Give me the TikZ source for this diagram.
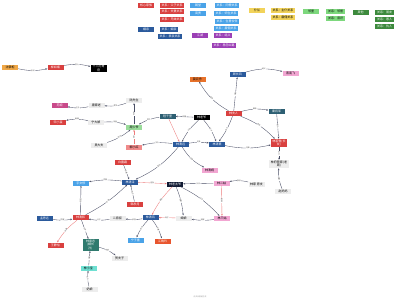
\documentclass[tikz,border=0pt]{standalone}
\usepackage{fontspec}
\setmainfont{Noto Sans CJK SC}
\usetikzlibrary{arrows.meta}
\newcommand{\nfont}{\fontsize{3}{3.4}\selectfont}
\newcommand{\lfont}{\fontsize{1.8}{2}\selectfont}
\definecolor{rdc}{HTML}{D9403F}
\definecolor{dbc}{HTML}{2B5A9C}
\definecolor{skc}{HTML}{4AA3E8}
\definecolor{puc}{HTML}{9B3FB5}
\definecolor{yec}{HTML}{F2D35A}
\definecolor{lgc}{HTML}{7DD87D}
\definecolor{dgc}{HTML}{3D8A3D}
\definecolor{ogc}{HTML}{F0A847}
\definecolor{or2c}{HTML}{E8722A}
\definecolor{pkc}{HTML}{F2A6D2}
\definecolor{mgc}{HTML}{C94A8A}
\definecolor{tec}{HTML}{2D5F73}
\definecolor{te2c}{HTML}{2F7A6E}
\definecolor{lrc}{HTML}{F08A8A}
\definecolor{gnc}{HTML}{9ADB9A}
\definecolor{nyc}{HTML}{111A33}
\definecolor{cyc}{HTML}{6FE0D2}
\definecolor{orrc}{HTML}{E8552E}
\definecolor{gyc}{HTML}{EDEDED}
\definecolor{edgec}{HTML}{4A4F66}
\definecolor{redline}{HTML}{EE7B7B}
\tikzset{
  nd/.style={rectangle, inner xsep=1.6pt, inner ysep=0.8pt, minimum height=5pt, minimum width=16pt, font=\nfont, align=center, text=white},
  rd/.style={nd, fill=rdc},
  db/.style={nd, fill=dbc},
  sk/.style={nd, fill=skc},
  pu/.style={nd, fill=puc},
  ye/.style={nd, fill=yec, text=black},
  lg/.style={nd, fill=lgc, text=black},
  dg/.style={nd, fill=dgc},
  og/.style={nd, fill=ogc, text=black},
  or2/.style={nd, fill=or2c, text=black},
  pk/.style={nd, fill=pkc, text=black},
  mg/.style={nd, fill=mgc},
  te/.style={nd, fill=tec},
  te2/.style={nd, fill=te2c},
  lr/.style={nd, fill=lrc, text=black},
  gn/.style={nd, fill=gnc, text=black},
  ny/.style={nd, fill=nyc},
  bk/.style={nd, fill=black},
  cy/.style={nd, fill=cyc, text=black},
  orr/.style={nd, fill=orrc},
  gy/.style={nd, fill=gyc, text=black},
  rel/.style={draw=edgec, line width=0.35pt, ->},
  relr/.style={rel, draw=redline},
  lbl/.style={font=\lfont, fill=white, inner sep=0.3pt, text=black!70, sloped}
}
\begin{document}
\begin{tikzpicture}[x=1pt, y=-1pt, >={Stealth[length=2pt,width=1.6pt]}]
  \fill[white] (0,0) rectangle (400,300);
  \useasboundingbox (0,0) rectangle (400,300);
  % legend
  \node[rd] (lgA) at (146,5) {核心家族};
  \node[rd] (lgA1) at (172,5) {关系：父子关系};
  \node[rd] (lgA2) at (172,11.5) {关系：夫妻关系};
  \node[rd] (lgA3) at (172,19) {关系：兄妹关系};
  \node[db] (lgB) at (146,29) {姻亲};
  \node[db] (lgB1) at (169,29) {关系：姻亲};
  \node[db] (lgB2) at (170,36) {关系：表亲关系};
  \node[sk] (lgC1) at (198,5.5) {朝堂};
  \node[sk] (lgC2) at (198,13.5) {商贾};
  \node[sk] (lgC3) at (227,5.5) {关系：同僚关系};
  \node[sk] (lgC4) at (226,13.5) {关系：师生关系};
  \node[sk] (lgC5) at (227,21) {关系：生意伙伴};
  \node[sk] (lgC6) at (226,28.5) {关系：雇佣关系};
  \node[pu] (lgD) at (200,35.5) {江湖};
  \node[pu] (lgD1) at (223,35.5) {关系：结义};
  \node[pu] (lgD2) at (224,45) {关系：恩怨纠葛};
  \node[ye] (lgE) at (257,10.5) {仆从};
  \node[ye] (lgE1) at (283,10.5) {关系：主仆关系};
  \node[ye] (lgE2) at (283,17) {关系：雇佣关系};
  \node[lg] (lgF) at (311,11.5) {邻里};
  \node[lg] (lgF1) at (335.5,11.5) {关系：邻居};
  \node[lg] (lgF2) at (335.5,18) {关系：旧识};
  \node[dg] (lgG) at (360.5,12) {其他};
  \node[dg] (lgG1) at (384.5,12) {关系：朋友};
  \node[dg] (lgG2) at (384.5,19) {关系：恩人};
  \node[dg] (lgG3) at (384.5,26) {关系：仇人};
  % upper left
  \node[og] (shen) at (10,67) {沈掌柜};
  \node[rd] (liu) at (55.5,67) {柳如烟};
  \node[bk] (fu) at (98.5,68.5) {十三阿哥\\府};
  \node[mg] (su) at (59.5,105) {苏婉};
  \node[gy] (tang) at (96.5,105) {唐家老};
  \node[gy] (lu) at (134,100.5) {陆先生};
  \node[rd] (song) at (58,122) {宋小蛮};
  \node[gy] (ning) at (96,122.5) {宁大娘};
  \node[gn] (zhou) at (134,127) {周少爷};
  \node[gy] (wu) at (99,145) {吴大夫};
  \node[lr] (xhong) at (134,147) {柳小红};
  % centre
  \node[or2] (mo) at (197.5,79) {莫云舟};
  \node[db] (gu) at (237.5,74.5) {顾长风};
  \node[pk] (yan) at (290.5,73.5) {燕南飞};
  \node[te] (cheng) at (167.5,116) {程千里};
  \node[bk] (lye) at (201.5,117.5) {林老爷};
  \node[rd] (lfu) at (233.5,113.5) {林夫人};
  \node[te] (qin) at (276.5,111.5) {秦将军};
  \node[db] (qyuan) at (180.5,144.5) {林清远};
  \node[db] (qyan) at (217,144) {林清晏};
  \node[rd] (rxue) at (279,143) {林若雪(长\\女)};
  \node[gy] (guanj) at (279,164) {林府管家(老\\周)};
  \node[gy] (zhao) at (283,191.5) {赵妈妈};
  \node[pk] (qwan) at (209.5,170) {林清婉};
  % lower part
  \node[rd] (bai) at (122.5,162) {白露霜};
  \node[sk] (yuwen) at (81,183) {宇文修};
  \node[db] (qze) at (130,182) {林清泽};
  \node[rd] (han) at (135,204) {韩秋月};
  \node[ny] (taiye) at (175,184) {林老太爷};
  \node[pk] (ergu) at (221.5,183) {林二姑};
  \node[gy] (pangzhi) at (256.5,184) {林家 旁支};
  \node[db] (meng) at (44.5,218) {孟思远};
  \node[rd] (qhe) at (80.5,217.5) {林清和};
  \node[gy] (erfang) at (117.5,218) {二房叔};
  \node[db] (qhong) at (150.5,217.5) {林清鸿};
  \node[gy] (shen2) at (183.5,218) {婶娘};
  \node[pk] (sangu) at (222,218.5) {林三姑};
  \node[rd] (wang) at (55.5,245) {王静怡};
  \node[te2] (chengz) at (90.5,245) {林承志\\(嫡长\\孙)};
  \node[gy] (he) at (119.5,258) {贺夫子};
  \node[sk] (zimo) at (135.5,240) {宁子墨};
  \node[orr] (jiang) at (162.5,241) {江晚吟};
  \node[cy] (xbao) at (88.5,268) {林小宝};
  \node[gy] (nai) at (89.5,289) {奶娘};
  \node[font=\lfont, text=black!40] (mark) at (200,297) {由关系图谱生成};
  % relations
  \draw[rel] (shen) to[bend right=12] node[lbl] {旧识} (liu);
  \draw[rel] (liu) to[bend left=12] node[lbl] {恩人} (fu);
  \draw[rel] (tang) to[bend left=12] node[lbl] {主仆} (su);
  \draw[rel] (lu) to[bend left=12] node[lbl] {师生} (tang);
  \draw[rel] (ning) to[bend right=12] node[lbl] {雇佣} (song);
  \draw[rel] (ning) to[bend left=10] node[lbl] {邻居} (zhou);
  \draw[rel] (wu) to[bend right=10] node[lbl] {旧识} (zhou);
  \draw[rel] (zhou) -- node[lbl] {师生} (lu);
  \draw[relr] (xhong) -- node[lbl] {主仆} (zhou);
  \draw[rel] (cheng) to[bend right=10] node[lbl] {结义} (zhou);
  \draw[rel] (lye) -- node[lbl] {同僚} (cheng);
  \draw[relr] (cheng) -- (qyuan);
  \draw[rel] (lye) to[bend right=10] node[lbl] {父子} (qyuan);
  \draw[rel] (lye) to[bend left=10] node[lbl] {父子} (qyan);
  \draw[rel] (lfu) to[bend left=8] node[lbl] {母子} (qyan);
  \draw[rel] (lfu) to[bend left=15] node[lbl] {表亲} (mo);
  \draw[rel] (lfu) -- node[lbl] {兄妹} (gu);
  \draw[rel] (gu) to[bend left=15] node[lbl] {结义} (yan);
  \draw[rel] (lfu) to[bend left=12] node[lbl] {姻亲} (qin);
  \draw[rel] (lfu) to[bend left=12] node[lbl] {母女} (rxue);
  \draw[rel] (qin) -- node[lbl] {恩人} (rxue);
  \draw[rel] (qyuan) to[bend left=8] node[lbl] {兄弟} (qyan);
  \draw[rel] (qyan) to[bend right=12] node[lbl] {兄妹} (rxue);
  \draw[rel] (qyuan) to[bend right=10] node[lbl] {主仆} (xhong);
  \draw[rel] (rxue) -- node[lbl] {主仆} (guanj);
  \draw[rel] (zhao) to[bend left=12] node[lbl] {夫妻} (guanj);
  \draw[rel] (qyuan) to[bend right=15] node[lbl] {兄妹} (qwan);
  \draw[rel] (qyuan) to[bend left=12] node[lbl] {堂兄} (qze);
  \draw[rel] (bai) -- node[lbl] {夫妻} (qze);
  \draw[rel] (qze) to[bend right=8] node[lbl] {同窗} (yuwen);
  \draw[rel] (han) -- node[lbl] {母子} (qze);
  \draw[relr] (qze) -- node[lbl] {祖孙} (taiye);
  \draw[rel] (ergu) -- node[lbl] {父女} (taiye);
  \draw[rel] (pangzhi) to[bend right=12] node[lbl] {族亲} (ergu);
  \draw[relr] (taiye) to[bend right=8] node[lbl] {祖孙} (qhong);
  \draw[rel] (taiye) to[bend left=8] node[lbl] {叔嫂} (shen2);
  \draw[rel] (taiye) to[bend left=10] node[lbl] {父女} (sangu);
  \draw[relr] (ergu) -- node[lbl] {姐妹} (sangu);
  \draw[rel] (meng) to[bend right=10] node[lbl] {同窗} (qhe);
  \draw[rel] (erfang) to[bend left=10] node[lbl] {父子} (qhe);
  \draw[rel] (qhong) to[bend left=8] node[lbl] {叔侄} (erfang);
  \draw[relr] (shen2) -- node[lbl] {母子} (qhong);
  \draw[rel] (sangu) to[bend left=8] node[lbl] {姑嫂} (shen2);
  \draw[rel] (qhong) to[bend right=10] node[lbl] {师兄} (zimo);
  \draw[rel] (qhong) to[bend left=10] node[lbl] {夫妻} (jiang);
  \draw[relr] (qhe) to[bend right=10] node[lbl] {夫妻} (wang);
  \draw[rel] (qhe) -- node[lbl] {父子} (chengz);
  \draw[rel] (chengz) to[bend left=10] node[lbl] {师生} (he);
  \draw[rel] (xbao) -- node[lbl] {兄弟} (chengz);
  \draw[rel] (nai) to[bend left=10] node[lbl] {主仆} (xbao);
  \draw[rel] (qhe) -- node[lbl] {同窗} (yuwen);
  \draw[rel] (qhe) to[bend right=8] node[lbl] {兄弟} (qze);
\end{tikzpicture}
\end{document}
